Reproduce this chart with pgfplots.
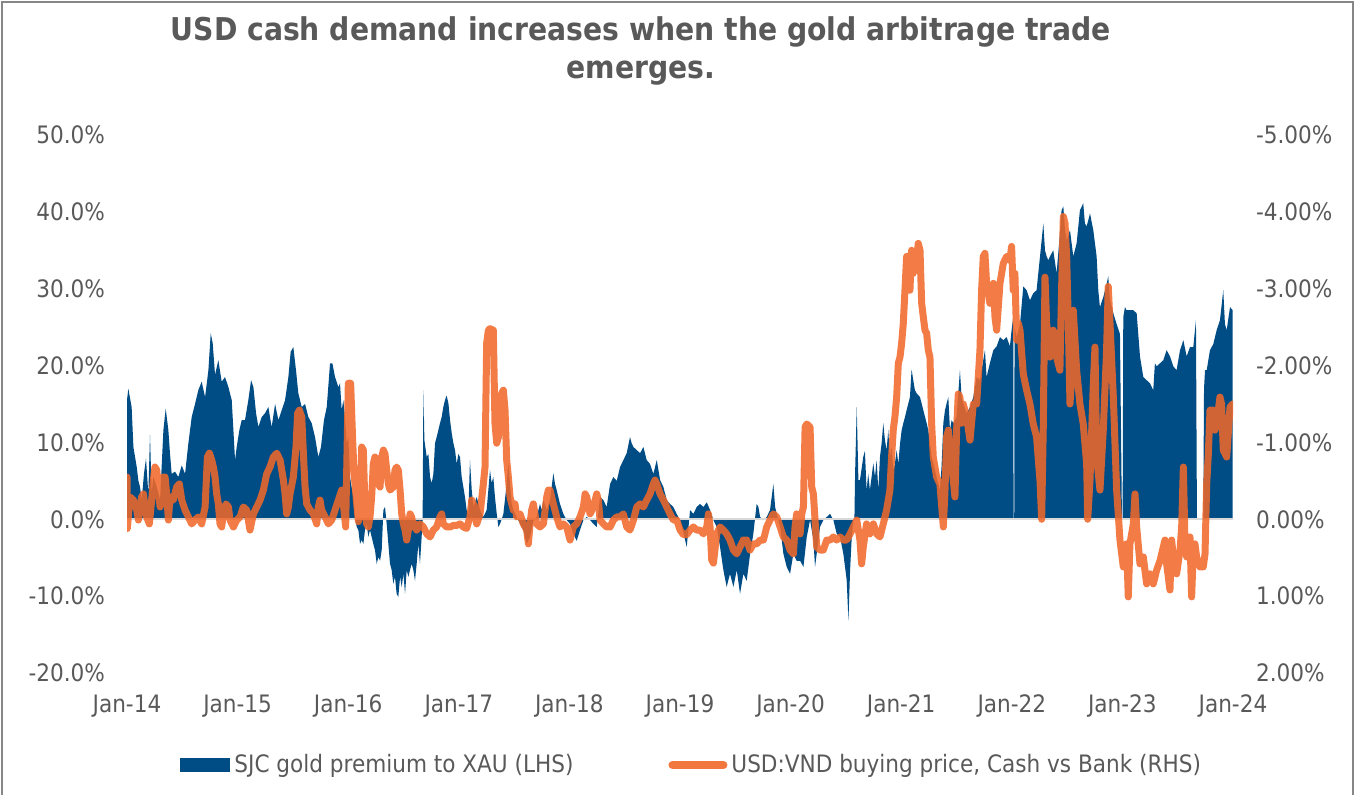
\documentclass[border=0pt]{standalone}
\usepackage{fontspec}
\setmainfont{DejaVu Sans Condensed}
\usepackage{pgfplots}
\pgfplotsset{compat=1.18}
\definecolor{sjcblue}{RGB}{0,76,133}
\definecolor{vndorange}{RGB}{241,104,42}
\definecolor{txtgray}{RGB}{89,89,89}
\definecolor{bordergray}{RGB}{134,134,134}
\definecolor{zerogray}{RGB}{217,217,217}
\begin{document}
\begin{tikzpicture}
\path[use as bounding box] (0pt,0pt) rectangle (678.5pt,397.5pt);
\draw[bordergray, line width=1pt] (1pt,-2pt) -- (1pt,396.5pt) -- (676.5pt,396.5pt) -- (676.5pt,-2pt);
\node[font=\bfseries\fontsize{15.7}{19}\selectfont, text=txtgray, align=center] at (320.5pt,372pt) {USD cash demand increases when the gold arbitrage trade\\emerges.};

\begin{axis}[
  at={(63.5pt,61pt)}, anchor=south west, width=553pt, height=269pt, scale only axis,
  xmin=2014, xmax=2024, ymin=-20, ymax=50,
  axis line style={draw=none}, major tick length=0pt,
  xtick={2014,2015,2016,2017,2018,2019,2020,2021,2022,2023,2024},
  xticklabels={Jan-14,Jan-15,Jan-16,Jan-17,Jan-18,Jan-19,Jan-20,Jan-21,Jan-22,Jan-23,Jan-24},
  ytick={-20,-10,0,10,20,30,40,50},
  yticklabel={\pgfmathprintnumber[fixed,fixed zerofill,precision=1,assume math mode=true]{\tick}\%},
  tick label style={font=\fontsize{12}{14}\selectfont, text=txtgray},
  xticklabel style={yshift=-7.5pt},
  yticklabel style={xshift=-7.5pt},
  legend style={at={(0.048,-0.171)}, anchor=west, draw=none, fill=none, inner sep=0pt,
    font=\fontsize{12}{14}\selectfont, text=txtgray},
  legend image code/.code={\fill[sjcblue] (0pt,-3.5pt) rectangle (25pt,3.5pt);},
]
\addplot[fill=sjcblue, draw=none] coordinates {
(2014.000,15.5)(2014.012,17.0)(2014.042,14.6)(2014.058,9.4)(2014.088,6.8)(2014.103,5.0)(2014.118,4.2)(2014.133,2.5)(2014.154,6.0)(2014.172,7.9)(2014.193,3.3)(2014.208,11.0)(2014.223,3.3)(2014.238,5.5)(2014.269,4.2)(2014.299,2.5)(2014.329,11.6)(2014.350,14.4)(2014.374,11.6)(2014.389,8.5)(2014.404,5.9)(2014.434,6.2)(2014.464,5.5)(2014.495,7.0)(2014.525,5.9)(2014.555,9.9)(2014.585,13.3)(2014.615,15.0)(2014.645,16.8)(2014.675,17.9)(2014.706,15.9)(2014.736,19.4)(2014.757,24.2)(2014.775,22.9)(2014.796,18.8)(2014.826,20.7)(2014.856,17.9)(2014.886,18.5)(2014.917,17.2)(2014.947,15.5)(2014.977,7.7)(2014.992,9.4)(2015.016,11.6)(2015.037,12.9)(2015.067,12.9)(2015.097,15.5)(2015.122,18.1)(2015.143,17.2)(2015.167,13.8)(2015.188,12.0)(2015.218,13.3)(2015.248,13.8)(2015.278,14.6)(2015.308,12.0)(2015.339,15.0)(2015.369,12.9)(2015.399,14.2)(2015.429,15.5)(2015.459,18.5)(2015.480,21.8)(2015.504,22.4)(2015.528,19.4)(2015.549,16.4)(2015.580,14.6)(2015.610,15.0)(2015.640,13.3)(2015.670,12.5)(2015.700,10.7)(2015.730,8.1)(2015.754,9.4)(2015.781,12.9)(2015.806,14.6)(2015.836,20.3)(2015.857,20.3)(2015.881,18.5)(2015.911,17.2)
(2015.926,17.7)(2015.941,14.2)(2015.956,15.5)(2015.971,13.3)(2015.986,9.9)(2016.001,10.7)(2016.016,5.5)(2016.031,4.2)(2016.047,2.9)(2016.062,0.3)(2016.077,-1.0)(2016.092,-1.4)(2016.107,-3.2)(2016.122,-2.7)(2016.137,-3.2)(2016.152,-1.4)(2016.167,-0.6)(2016.182,-2.3)(2016.197,-1.4)(2016.212,-2.3)(2016.227,-3.2)(2016.242,-4.0)(2016.258,-5.8)(2016.273,-4.9)(2016.288,-5.4)(2016.303,-4.0)(2016.318,1.2)(2016.333,1.6)(2016.348,-0.6)(2016.363,-3.2)(2016.378,-5.8)(2016.393,-6.6)(2016.408,-8.4)(2016.423,-7.5)(2016.438,-9.7)(2016.453,-10.1)(2016.469,-7.5)(2016.484,-8.8)(2016.499,-7.1)(2016.514,-9.7)(2016.529,-6.6)(2016.544,-7.5)(2016.559,-6.6)(2016.574,-5.8)(2016.589,-6.6)(2016.604,-8.0)(2016.619,-5.8)(2016.634,-3.2)(2016.649,-5.8)(2016.664,-2.3)(2016.673,0)(2016.680,16.8)(2016.689,10.3)(2016.710,8.1)(2016.725,8.5)(2016.740,5.5)(2016.755,4.7)(2016.770,5.9)(2016.785,9.9)(2016.800,10.7)(2016.815,11.6)(2016.830,12.5)(2016.845,13.3)(2016.860,14.6)(2016.875,15.5)(2016.890,16.1)(2016.906,15.1)(2016.921,12.9)(2016.936,11.2)(2016.951,9.9)(2016.966,9.0)(2016.981,7.2)(2016.996,8.5)(2017.011,8.1)(2017.026,5.5)(2017.041,4.2)(2017.056,2.9)(2017.071,1.2)(2017.086,0.7)(2017.101,7.7)(2017.117,3.8)(2017.132,1.6)(2017.162,2.9)(2017.192,1.2)(2017.222,0.3)(2017.252,1.2)(2017.282,6.4)(2017.297,4.7)(2017.312,5.5)(2017.327,2.9)(2017.343,0.7)(2017.358,-1.0)(2017.373,-0.6)(2017.403,0.7)(2017.433,4.6)(2017.448,7.2)(2017.463,4.6)(2017.478,2.0)(2017.493,1.2)(2017.523,0.3)(2017.554,-0.6)(2017.584,-1.4)(2017.614,-3.2)(2017.644,-2.3)(2017.674,-0.2)(2017.704,0.3)(2017.734,2.0)(2017.749,1.2)(2017.765,2.5)(2017.795,1.2)(2017.825,2.5)(2017.855,6.0)(2017.870,4.6)(2017.885,3.8)(2017.915,2.0)(2017.945,0.7)(2017.975,-0.1)(2018.006,-0.6)
(2018.036,-1.9)(2018.066,-2.8)(2018.096,-1.4)(2018.127,-0.1)(2018.157,0.3)(2018.187,-0.1)(2018.217,-0.6)(2018.247,-1.0)(2018.277,2.9)(2018.307,2.5)(2018.337,1.6)(2018.368,4.6)(2018.398,5.5)(2018.428,5.0)(2018.458,6.8)(2018.488,7.7)(2018.518,8.6)(2018.548,10.7)(2018.563,9.9)(2018.579,9.4)(2018.609,9.0)(2018.639,8.6)(2018.669,9.4)(2018.699,7.7)(2018.729,7.2)(2018.759,5.9)(2018.790,7.7)(2018.820,5.1)(2018.850,4.2)(2018.880,2.5)(2018.910,2.0)(2018.940,1.6)(2018.970,0.7)(2019.001,-0.1)(2019.031,-1.8)(2019.061,-3.6)(2019.091,1.2)(2019.121,0.7)(2019.151,1.6)(2019.181,2.0)(2019.212,1.6)(2019.242,2.2)(2019.272,1.2)(2019.302,-0.1)(2019.332,-1.0)(2019.362,-3.6)(2019.392,-6.6)(2019.422,-8.8)(2019.452,-7.1)(2019.483,-8.8)(2019.513,-6.6)(2019.543,-9.7)(2019.573,-7.1)(2019.603,-8.0)(2019.633,-4.6)(2019.663,-1.9)(2019.693,2.0)(2019.709,1.6)(2019.724,0.3)(2019.754,-0.1)(2019.784,0.3)(2019.814,1.2)(2019.844,4.6)(2019.860,1.6)(2019.875,0.7)(2019.905,-1.0)(2019.935,-4.5)(2019.965,-6.2)(2019.995,-7.1)(2020.025,-4.5)(2020.055,-5.4)(2020.086,-5.4)(2020.116,-6.2)(2020.146,-2.3)(2020.176,-0.1)(2020.206,-2.7)(2020.221,-6.2)(2020.236,-4.5)(2020.266,-1.0)(2020.296,-0.1)(2020.327,0.3)(2020.357,0.7)(2020.387,-0.1)(2020.417,-1.9)(2020.447,-2.3)(2020.477,-4.5)(2020.507,-7.9)(2020.523,-13.2)(2020.538,-6.6)(2020.553,-2.3)(2020.568,-0.1)(2020.577,0)(2020.583,5.9)(2020.598,14.6)(2020.613,5.1)
(2020.627,5.1)(2020.657,8.1)(2020.672,8.9)(2020.687,3.8)(2020.702,5.9)(2020.717,3.8)(2020.748,7.3)(2020.763,5.5)(2020.778,7.7)(2020.793,3.8)(2020.808,8.1)(2020.823,9.9)(2020.838,12.5)(2020.853,10.3)(2020.868,9.0)(2020.883,11.6)(2020.898,8.1)(2020.913,9.4)(2020.928,6.4)(2020.943,7.2)(2020.959,9.0)(2020.974,7.2)(2020.989,9.8)(2021.004,11.6)(2021.019,12.5)(2021.034,13.3)(2021.049,14.2)(2021.079,15.9)(2021.094,19.5)(2021.109,18.1)(2021.124,16.8)(2021.139,16.4)(2021.170,15.9)(2021.200,14.2)(2021.230,12.5)(2021.245,11.6)(2021.260,9.9)(2021.275,8.1)(2021.290,7.3)(2021.320,5.5)(2021.350,3.8)(2021.365,6.9)(2021.381,12.5)(2021.396,14.2)(2021.411,15.1)(2021.426,15.9)(2021.441,11.6)(2021.456,12.9)(2021.471,12.5)(2021.501,13.3)(2021.531,19.4)(2021.546,15.9)(2021.561,15.1)(2021.591,13.8)(2021.622,14.6)(2021.652,15.9)(2021.682,18.5)(2021.712,18.1)(2021.742,20.7)(2021.757,22.0)(2021.772,18.5)(2021.802,20.3)(2021.833,22.0)(2021.863,22.5)(2021.893,23.7)(2021.923,23.3)(2021.953,23.7)(2021.983,22.5)(2021.998,24.6)(2022.013,26.3)(2022.016,0)(2022.022,0)(2022.025,25.0)(2022.044,23.7)(2022.074,25.4)(2022.104,30.3)(2022.134,29.8)(2022.164,28.5)(2022.194,29.4)(2022.224,29.8)(2022.255,34.2)(2022.285,38.5)(2022.300,35.0)(2022.315,34.2)(2022.330,33.7)(2022.345,34.2)(2022.360,34.6)(2022.375,35.0)(2022.405,32.0)(2022.435,37.2)(2022.450,40.2)(2022.466,40.7)(2022.481,37.6)(2022.496,36.3)(2022.526,37.6)(2022.556,34.2)(2022.586,35.9)(2022.616,40.2)(2022.646,41.1)(2022.661,38.5)(2022.677,38.1)(2022.707,39.8)(2022.737,37.6)(2022.767,34.2)(2022.782,29.8)(2022.797,27.6)(2022.827,28.9)(2022.857,30.6)(2022.872,31.6)(2022.888,28.5)(2022.918,26.8)(2022.948,25.4)(2022.978,24.1)(2022.996,0)(2023.002,0)(2023.008,26.3)(2023.023,27.6)(2023.038,27.2)(2023.068,27.2)(2023.099,27.2)(2023.129,26.8)(2023.159,21.2)(2023.189,18.5)(2023.219,18.1)(2023.249,17.7)(2023.279,16.8)(2023.294,20.3)(2023.310,19.9)(2023.340,20.3)(2023.370,20.7)(2023.400,22.0)(2023.430,21.2)(2023.460,19.9)(2023.490,19.4)(2023.521,22.0)(2023.551,23.3)(2023.581,21.2)(2023.611,22.4)(2023.641,22.4)(2023.665,25.9)(2023.674,0)(2023.731,0)(2023.738,17.0)(2023.747,19.4)(2023.762,19.4)(2023.792,22.0)(2023.822,22.8)(2023.852,24.6)(2023.882,25.9)(2023.912,29.8)(2023.927,25.4)(2023.943,24.6)(2023.973,27.6)(2023.997,27.2)
} \closedcycle;
\addlegendentry{SJC gold premium to XAU (LHS)}
\draw[zerogray, line width=1pt] (axis cs:2014,0) -- (axis cs:2024,0);
\end{axis}

\begin{axis}[
  at={(63.5pt,61pt)}, anchor=south west, width=553pt, height=269pt, scale only axis,
  xmin=2014, xmax=2024, ymin=-5, ymax=2, y dir=reverse,
  axis x line=none, axis y line*=right, axis line style={draw=none}, major tick length=0pt,
  ytick={-5,-4,-3,-2,-1,0,1,2},
  yticklabel={\pgfmathprintnumber[fixed,fixed zerofill,precision=2,assume math mode=true]{\tick}\%},
  tick label style={font=\fontsize{12}{14}\selectfont, text=txtgray},
  yticklabel style={xshift=8pt},
  legend style={at={(0.4892,-0.171)}, anchor=west, draw=none, fill=none, inner sep=0pt,
    font=\fontsize{12}{14}\selectfont, text=txtgray},
  legend image code/.code={\draw[vndorange, line width=4pt, line cap=round, opacity=0.9] (2pt,0pt) -- (27.5pt,0pt);},
]
\addplot[vndorange, line width=3.5pt, opacity=0.87, line join=round, line cap=round, no markers] coordinates {
(2014.000,-0.55)(2014.003,0.12)(2014.027,-0.29)(2014.058,-0.25)(2014.088,-0.12)(2014.103,0.01)(2014.118,-0.16)(2014.133,-0.29)(2014.148,-0.33)(2014.163,-0.16)(2014.178,-0.03)(2014.202,0.06)(2014.223,-0.25)(2014.238,-0.51)(2014.253,-0.68)(2014.269,-0.64)(2014.284,-0.38)(2014.299,-0.16)(2014.314,-0.25)(2014.329,-0.55)(2014.344,-0.55)(2014.359,-0.33)(2014.374,0.01)(2014.389,-0.29)(2014.419,-0.25)(2014.449,-0.42)(2014.473,-0.46)(2014.495,-0.25)(2014.525,-0.12)(2014.555,-0.03)(2014.585,0.06)(2014.615,0.01)(2014.645,-0.03)(2014.675,0.06)(2014.706,-0.16)(2014.727,-0.81)(2014.745,-0.86)(2014.766,-0.77)(2014.781,-0.68)(2014.796,-0.55)(2014.811,-0.33)(2014.826,-0.20)(2014.841,0.06)(2014.856,0.10)(2014.871,-0.07)(2014.895,-0.20)(2014.917,-0.16)(2014.932,0.01)(2014.962,0.10)(2014.992,0.01)(2015.022,-0.03)(2015.052,-0.16)(2015.082,-0.12)(2015.112,0.14)(2015.143,-0.07)(2015.173,-0.16)(2015.203,-0.25)(2015.233,-0.38)(2015.263,-0.59)(2015.293,-0.68)(2015.323,-0.81)(2015.354,-0.86)(2015.384,-0.77)(2015.414,-0.51)(2015.429,-0.33)(2015.444,-0.07)(2015.459,-0.16)(2015.474,-0.33)(2015.504,-0.55)(2015.528,-0.94)(2015.543,-1.38)(2015.559,-1.42)(2015.580,-1.33)(2015.595,-0.85)(2015.610,-0.42)(2015.625,-0.20)(2015.655,-0.12)(2015.685,-0.07)(2015.715,0.06)(2015.730,-0.16)(2015.745,-0.25)(2015.760,-0.12)(2015.791,-0.03)(2015.821,0.06)(2015.851,0.01)(2015.881,-0.12)(2015.911,-0.25)(2015.941,-0.38)
(2015.956,-0.20)(2015.977,0.10)(2016.001,-1.77)(2016.022,-1.77)(2016.041,-1.00)(2016.053,-0.60)(2016.077,-0.20)(2016.092,0.03)(2016.107,-0.10)(2016.122,-0.94)(2016.137,-0.90)(2016.152,-0.12)(2016.167,0.06)(2016.182,0.10)(2016.197,-0.03)(2016.212,-0.29)(2016.227,-0.72)(2016.242,-0.81)(2016.258,-0.77)(2016.273,-0.46)(2016.288,-0.42)(2016.303,-0.81)(2016.318,-0.90)(2016.333,-0.85)(2016.348,-0.64)(2016.363,-0.46)(2016.378,-0.38)(2016.408,-0.42)(2016.423,-0.64)(2016.438,-0.68)(2016.453,-0.64)(2016.469,-0.38)(2016.484,-0.07)(2016.499,0.06)(2016.514,0.14)(2016.529,0.27)(2016.544,0.14)(2016.559,-0.07)(2016.574,-0.03)(2016.589,0.10)(2016.604,0.06)(2016.619,0.14)(2016.634,0.10)(2016.649,0.06)(2016.680,0.10)(2016.710,0.19)(2016.740,0.23)(2016.770,0.14)(2016.800,0.10)(2016.830,-0.03)(2016.845,-0.07)(2016.860,0.06)(2016.890,0.10)(2016.921,0.10)(2016.951,0.08)(2016.981,0.08)(2017.011,0.06)(2017.041,0.10)(2017.071,0.12)(2017.101,-0.03)(2017.117,-0.25)(2017.132,-0.20)(2017.162,0.06)(2017.192,-0.07)(2017.222,-0.46)(2017.237,-0.68)(2017.252,-2.29)(2017.267,-2.46)(2017.282,-2.48)(2017.312,-2.46)(2017.327,-1.25)(2017.343,-0.99)(2017.358,-1.07)(2017.373,-1.42)(2017.388,-1.64)(2017.403,-1.68)(2017.418,-1.42)(2017.433,-0.77)(2017.448,-0.55)(2017.463,-0.29)(2017.493,-0.12)(2017.508,-0.20)(2017.523,-0.03)(2017.554,-0.07)(2017.584,0.06)(2017.614,0.14)(2017.629,0.32)(2017.644,0.06)(2017.659,-0.12)(2017.674,-0.20)(2017.704,0.06)(2017.734,0.10)(2017.765,0.06)(2017.795,-0.29)(2017.810,-0.38)(2017.825,-0.38)(2017.855,-0.20)(2017.885,-0.03)(2017.915,0.10)(2017.945,0.06)(2017.975,0.10)(2018.006,0.27)
(2018.036,0.10)(2018.066,0.06)(2018.096,-0.03)(2018.127,-0.16)(2018.142,-0.33)(2018.157,-0.29)(2018.187,-0.07)(2018.217,-0.16)(2018.247,-0.33)(2018.262,-0.25)(2018.277,0.01)(2018.307,0.06)(2018.337,0.10)(2018.368,0.10)(2018.398,0.01)(2018.428,-0.03)(2018.458,-0.03)(2018.488,-0.07)(2018.518,0.10)(2018.548,0.14)(2018.579,0.01)(2018.609,-0.16)(2018.639,-0.20)(2018.669,-0.16)(2018.699,-0.25)(2018.729,-0.33)(2018.759,-0.46)(2018.774,-0.51)(2018.790,-0.46)(2018.820,-0.33)(2018.850,-0.25)(2018.880,-0.16)(2018.910,-0.07)(2018.940,0.01)(2018.970,0.01)(2019.001,0.14)(2019.031,0.20)(2019.061,0.20)(2019.091,0.14)(2019.121,0.10)(2019.151,0.14)(2019.181,0.14)(2019.212,0.19)(2019.242,0.10)(2019.257,-0.07)(2019.272,0.10)(2019.287,0.53)(2019.302,0.57)(2019.332,0.19)(2019.362,0.10)(2019.392,0.14)(2019.422,0.19)(2019.452,0.27)(2019.483,0.40)(2019.513,0.45)(2019.543,0.36)(2019.573,0.27)(2019.603,0.27)(2019.633,0.40)(2019.663,0.32)(2019.693,0.32)(2019.724,0.27)(2019.754,0.27)(2019.784,0.10)(2019.814,0.01)(2019.844,-0.07)(2019.875,-0.03)(2019.905,0.10)(2019.935,0.23)(2019.965,0.27)(2019.995,0.40)(2020.025,0.45)(2020.040,0.10)(2020.055,-0.07)(2020.086,0.19)(2020.101,-0.07)(2020.116,-0.16)(2020.131,-1.20)(2020.146,-1.24)(2020.176,-1.20)(2020.191,-0.42)(2020.206,-0.33)(2020.221,0.01)(2020.236,0.36)(2020.266,0.40)(2020.296,0.40)(2020.327,0.27)(2020.357,0.27)(2020.387,0.23)(2020.417,0.27)(2020.447,0.23)(2020.477,0.27)(2020.507,0.27)(2020.538,0.19)(2020.568,0.10)(2020.598,0.01)
(2020.627,0.27)(2020.642,0.58)(2020.657,0.36)(2020.687,0.06)(2020.717,0.19)(2020.748,0.06)(2020.778,0.19)(2020.808,0.23)(2020.838,0.06)(2020.868,-0.12)(2020.898,-0.38)(2020.913,-0.81)(2020.928,-1.16)(2020.943,-1.33)(2020.959,-1.59)(2020.974,-2.03)(2020.989,-2.11)(2021.004,-2.29)(2021.019,-2.55)(2021.034,-2.98)(2021.049,-3.42)(2021.064,-3.42)(2021.079,-2.98)(2021.094,-3.50)(2021.109,-3.20)(2021.124,-3.42)(2021.139,-3.33)(2021.154,-3.59)(2021.170,-3.50)(2021.185,-2.81)(2021.200,-2.63)(2021.215,-2.46)(2021.230,-2.42)(2021.245,-2.20)(2021.260,-2.11)(2021.275,-1.25)(2021.290,-0.81)(2021.320,-0.55)(2021.350,-0.46)(2021.381,0.10)(2021.396,-0.38)(2021.411,-1.07)(2021.426,-1.16)(2021.441,-0.90)(2021.471,-0.51)(2021.486,-0.29)(2021.501,-1.16)(2021.516,-1.63)(2021.531,-1.59)(2021.546,-1.25)(2021.561,-1.50)(2021.591,-1.33)(2021.622,-1.03)(2021.652,-1.50)(2021.682,-1.50)(2021.712,-2.20)(2021.727,-2.98)(2021.742,-3.42)(2021.757,-3.46)(2021.772,-3.07)(2021.802,-2.81)(2021.833,-3.07)(2021.848,-2.63)(2021.863,-2.46)(2021.893,-3.07)(2021.923,-3.33)(2021.953,-3.42)(2021.983,-3.37)(2021.998,-3.55)(2022.013,-2.98)(2022.028,-3.20)(2022.044,-2.33)(2022.059,-2.55)(2022.074,-2.46)(2022.104,-1.89)(2022.134,-1.68)(2022.164,-1.50)(2022.194,-1.24)(2022.224,-1.07)(2022.255,-0.50)(2022.270,0.00)(2022.285,-1.24)(2022.300,-3.15)(2022.315,-2.55)(2022.345,-2.11)(2022.375,-2.46)(2022.405,-2.11)(2022.435,-1.94)(2022.450,-2.98)(2022.466,-3.94)(2022.481,-3.85)(2022.496,-3.42)(2022.511,-2.55)(2022.526,-1.50)(2022.541,-1.85)(2022.556,-2.72)(2022.586,-1.94)(2022.616,-1.50)(2022.646,-1.24)(2022.677,-0.72)(2022.686,0.00)(2022.707,-0.51)(2022.737,-1.76)(2022.752,-2.24)(2022.767,-0.81)(2022.797,-0.38)(2022.827,-1.16)(2022.857,-2.20)(2022.872,-3.03)(2022.888,-2.55)(2022.918,-1.59)(2022.948,-0.38)(2022.978,0.27)(2023.008,0.62)(2023.038,0.32)(2023.053,1.01)(2023.068,0.32)(2023.099,0.06)(2023.114,-0.33)(2023.129,0.10)(2023.159,0.58)(2023.189,0.49)(2023.219,0.84)(2023.249,0.71)(2023.279,0.84)(2023.310,0.66)(2023.340,0.54)(2023.370,0.36)(2023.385,0.27)(2023.400,0.58)(2023.430,0.92)(2023.445,0.27)(2023.460,0.49)(2023.490,0.71)(2023.521,0.40)(2023.536,0.10)(2023.551,-0.68)(2023.566,0.32)(2023.581,0.49)(2023.611,0.23)(2023.626,1.01)(2023.641,0.40)(2023.656,0.32)(2023.671,0.49)(2023.701,0.62)(2023.731,0.62)(2023.747,0.45)(2023.762,-0.46)(2023.777,-0.85)(2023.792,-1.42)(2023.822,-1.42)(2023.837,-1.16)(2023.852,-1.24)(2023.882,-1.59)(2023.897,-1.50)(2023.912,-0.90)(2023.943,-0.81)(2023.973,-1.46)(2023.997,-1.50)
};
\addlegendentry{USD:VND buying price, Cash vs Bank (RHS)}
\end{axis}
\end{tikzpicture}
\end{document}
